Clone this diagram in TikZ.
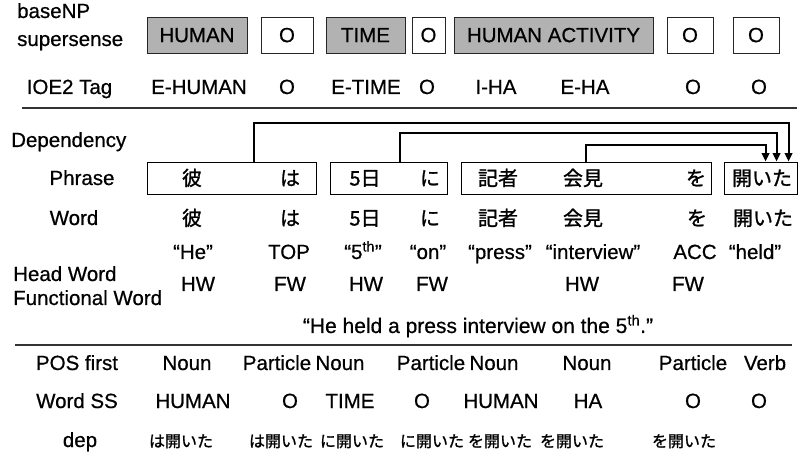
\documentclass[tikz,border=0pt]{standalone}
\usepackage{fontspec}
\setmainfont{Liberation Sans}[FakeBold=0.6]
\newfontfamily\cjk{Noto Sans CJK JP}[FakeBold=1.2]
\usetikzlibrary{arrows.meta,calc}
\definecolor{ssgray}{RGB}{178,178,178}
\begin{document}
\begin{tikzpicture}[x=1pt,y=-1pt,
  txt/.style={anchor=base,inner sep=0pt,font=\fontsize{20.5}{24}\selectfont},
  ltxt/.style={anchor=base west,inner sep=0pt,font=\fontsize{20.5}{24}\selectfont},
  jtxt/.style={anchor=base,inner sep=0pt,font=\fontsize{20}{24}\selectfont\cjk},
  jsm/.style={anchor=base,inner sep=0pt,font=\fontsize{16}{19}\selectfont\cjk},
  ssbox/.style={draw=black!85,line width=0.9pt,minimum height=36pt,inner sep=0pt,
    text height=14.3pt,text depth=0pt,font=\fontsize{20.5}{24}\selectfont},
  ssfill/.style={ssbox,fill=ssgray},
  phbox/.style={draw=black,line width=0.9pt,minimum height=32pt,inner sep=0pt},
  sepline/.style={draw=black!80,line width=2pt},
  deparrow/.style={draw=black,line width=2pt,-{Triangle[width=7.5pt,length=8.5pt]}}
]
\fill[white] (0,0) rectangle (798,454);
\useasboundingbox (0,0) rectangle (798,454);

% ---- baseNP supersense row
\node[ltxt] (lbase) at (17,18) {baseNP};
\node[ltxt] (lsuper) at (17,46) {supersense};
\node[ssfill,minimum width=100pt] (b1) at (197,35) {HUMAN};
\node[ssbox,minimum width=52pt] (b2) at (287,35) {O};
\node[ssfill,minimum width=79pt] (b3) at (365.5,35) {TIME};
\node[ssbox,minimum width=33pt] (b4) at (428.5,35) {O};
\node[ssfill,minimum width=199pt] (b5) at (553.5,35) {HUMAN ACTIVITY};
\node[ssbox,minimum width=46pt] (b6) at (690,35) {O};
\node[ssbox,minimum width=46pt] (b7) at (756,35) {O};

% ---- IOE2 row
\node[txt] (lioe) at (69.5,94) {IOE2 Tag};
\node[txt] (i1) at (199,94) {E-HUMAN};
\node[txt] (i2) at (287,94) {O};
\node[txt] (i3) at (366,94) {E-TIME};
\node[txt] (i4) at (427,94) {O};
\node[txt] (i5) at (496,94) {I-HA};
\node[txt] (i6) at (585,94) {E-HA};
\node[txt] (i7) at (693,94) {O};
\node[txt] (i8) at (759,94) {O};

\coordinate (s1a) at (22,108);
\coordinate (s1b) at (797,108);
\draw[sepline] (s1a) -- (s1b);

% ---- Dependency / Phrase
\node[ltxt] (ldep) at (11,147) {Dependency};
\node[txt] (lphrase) at (82,185) {Phrase};
\node[phbox,minimum width=169pt] (p1) at (231.5,178) {};
\node[phbox,minimum width=117pt] (p2) at (388.5,178) {};
\node[phbox,minimum width=250pt] (p3) at (586,178) {};
\node[phbox,minimum width=73pt] (p4) at (760.5,178) {};

\node[jtxt] (pw1) at (192,185.5) {彼};
\node[jtxt] (pw2) at (290,185.5) {は};
\node[jtxt] (pw3) at (365,185.5) {5日};
\node[jtxt] (pw4) at (430,185.5) {に};
\node[jtxt] (pw5) at (498,185.5) {記者};
\node[jtxt] (pw6) at (583,185.5) {会見};
\node[jtxt] (pw7) at (696,185.5) {を};
\node[jtxt] (pw8) at (762,185.5) {開いた};

\draw[deparrow] ($(p1.north west)+(107,0)$) -- ++(0,-39) -| ($(p4.north west)+(65,0)$);
\draw[deparrow] ($(p2.north west)+(70,0)$) -- ++(0,-29) -| ($(p4.north west)+(53,0)$);
\draw[deparrow] ($(p3.north west)+(125,0)$) -- ++(0,-17) -| ($(p4.north west)+(42,0)$);

% ---- Word row
\node[txt] (lword) at (74,225) {Word};
\node[jtxt] (w1) at (192,225.5) {彼};
\node[jtxt] (w2) at (290,225.5) {は};
\node[jtxt] (w3) at (365,225.5) {5日};
\node[jtxt] (w4) at (430,225.5) {に};
\node[jtxt] (w5) at (498,225.5) {記者};
\node[jtxt] (w6) at (583,225.5) {会見};
\node[jtxt] (w7) at (697,225.5) {を};
\node[jtxt] (w8) at (763,225.5) {開いた};

% ---- Gloss row
\node[txt] (g1) at (193,259) {“He”};
\node[txt] (g2) at (289,259) {TOP};
\node[txt] (g3) at (363,259) {“5\textsuperscript{th}”};
\node[txt] (g4) at (428,259) {“on”};
\node[txt] (g5) at (500,259) {“press”};
\node[txt] (g6) at (593,259) {“interview”};
\node[txt] (g7) at (695,259) {ACC};
\node[txt] (g8) at (755,259) {“held”};

% ---- Head / Functional word
\node[ltxt] (lhead) at (13,281) {Head Word};
\node[ltxt] (lfunc) at (13,305) {Functional Word};
\node[txt] (h1) at (198,291) {HW};
\node[txt] (h2) at (290,291) {FW};
\node[txt] (h3) at (366,291) {HW};
\node[txt] (h4) at (432,291) {FW};
\node[txt] (h5) at (582,291) {HW};
\node[txt] (h6) at (688,291) {FW};

\node[txt,font=\fontsize{21}{24}\selectfont] (sent) at (478,333) {“He held a press interview on the 5\textsuperscript{th}.”};

\coordinate (s2a) at (15,345);
\coordinate (s2b) at (792,345);
\draw[sepline] (s2a) -- (s2b);

% ---- POS row
\node[txt] (lpos) at (77,370) {POS first};
\node[txt] (q1) at (187,370) {Noun};
\node[txt] (q2) at (277,370) {Particle};
\node[txt] (q3) at (340,370) {Noun};
\node[txt] (q4) at (431,370) {Particle};
\node[txt] (q5) at (494,370) {Noun};
\node[txt] (q6) at (587,370) {Noun};
\node[txt] (q7) at (693,370) {Particle};
\node[txt] (q8) at (765,370) {Verb};

% ---- Word SS row
\node[txt] (lwss) at (77,408) {Word SS};
\node[txt] (r1) at (193,408) {HUMAN};
\node[txt] (r2) at (290,408) {O};
\node[txt] (r3) at (350,408) {TIME};
\node[txt] (r4) at (422,408) {O};
\node[txt] (r5) at (501,408) {HUMAN};
\node[txt] (r6) at (588,408) {HA};
\node[txt] (r7) at (693,408) {O};
\node[txt] (r8) at (759,408) {O};

% ---- dep row
\node[txt] (ldeprow) at (80,447) {dep};
\node[jsm] (d1) at (181,447) {は開いた};
\node[jsm] (d2) at (281,447) {は開いた};
\node[jsm] (d3) at (352,447) {に開いた};
\node[jsm] (d4) at (432,447) {に開いた};
\node[jsm] (d5) at (500,447) {を開いた};
\node[jsm] (d6) at (572,447) {を開いた};
\node[jsm] (d7) at (684,447) {を開いた};
\end{tikzpicture}
\end{document}
